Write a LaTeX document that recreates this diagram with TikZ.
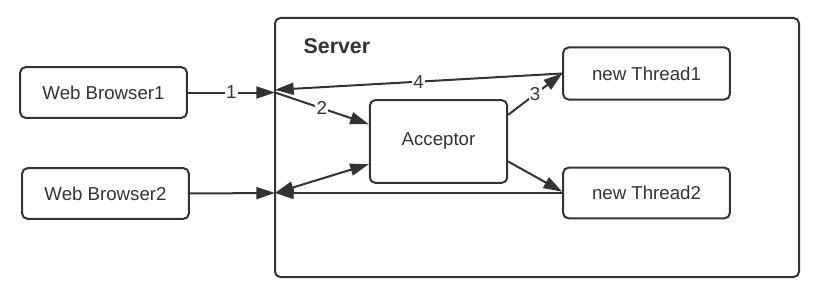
\documentclass[tikz,border=0pt]{standalone}
\usepackage{fontspec}
\setmainfont{Liberation Sans}
\usetikzlibrary{arrows.meta,positioning}
\definecolor{inkgray}{RGB}{51,51,51}

\begin{document}
\begin{tikzpicture}[x=.75pt,y=-.75pt,font=\fontsize{14}{16}\selectfont,>={Triangle[length=14pt,width=9pt]},
  box/.style={draw=inkgray,line width=1.5pt,rounded corners=4pt,text=inkgray,inner sep=0pt},
  link/.style={draw=inkgray,line width=1.5pt},
  num/.style={fill=white,inner sep=1pt,text=inkgray}]
\useasboundingbox (0,0) rectangle (820,296);
\draw[box] (275,18) rectangle (799,277);
\node[anchor=west,text=inkgray,font=\fontsize{16}{18}\selectfont\bfseries] (srv) at (299,46) {Server};
\node[box,minimum width=125pt,minimum height=38pt] (wb1) at (103.5,92.5) {Web Browser1};
\node[box,minimum width=125pt,minimum height=38pt] (wb2) at (105.5,193.5) {Web Browser2};
\node[box,minimum width=103pt,minimum height=62pt] (acc) at (438.5,141.5) {Acceptor};
\node[box,minimum width=125pt,minimum height=39pt] (t1) at (646.5,73.5) {new Thread1};
\node[box,minimum width=125pt,minimum height=38pt] (t2) at (646.5,193) {new Thread2};
\coordinate (j1) at (275,92.5);
\coordinate (j2) at (275,193);
\draw[link,->] (wb1.east)--(j1) node[num,midway]{1};
\draw[link,->] (j1)--([yshift=13pt]acc.west) node[num,midway]{2};
\draw[link,->] ([yshift=20pt]acc.east)--(t1.west) node[num,midway]{3};
\draw[link,->] (t1.west)--([yshift=2pt]j1) node[num,midway]{4};
\draw[link,->] ([yshift=-15pt]acc.east)--([yshift=1pt]t2.west);
\draw[link,->] (t2.west)--(j2);
\draw[link,->] (wb2.east)--(j2);
\draw[link,<->] (j2)--([yshift=-17pt]acc.west);
\end{tikzpicture}
\end{document}
